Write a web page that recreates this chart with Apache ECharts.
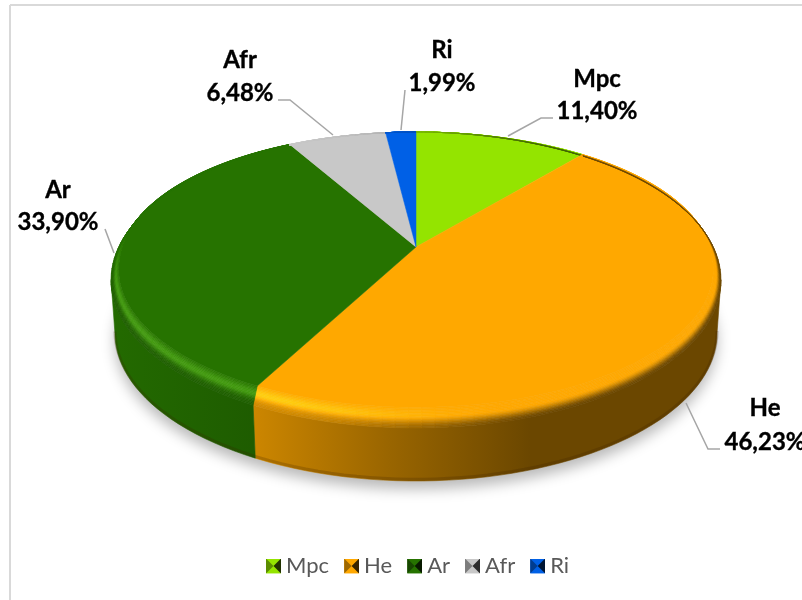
<!DOCTYPE html>
<html>
<head>
<meta charset="utf-8">
<script src="https://cdn.jsdelivr.net/npm/echarts@6/dist/echarts.min.js"></script>
<style>html,body{margin:0;padding:0;background:#fff}#c{width:802px;height:600px}</style>
</head>
<body>
<div id="c"></div>
<script>
// ---- data ----
const categories = ['Mpc', 'He', 'Ar', 'Afr', 'Ri'];
const values = [11.40, 46.23, 33.90, 6.48, 1.99];

// ---- style / layout ----
const baseColors = [[148,228,0],[255,168,0],[38,115,0],[200,200,200],[0,96,230]];
const labelSpots = [
  {x:597, y1:79,  y2:111, line:[[553,118],[541,118],[508,136]]},
  {x:765, y1:408, y2:442, line:[[686,403],[708,449],[720,449]]},
  {x:58,  y1:190, y2:222, line:[[105,229],[114,253]]},
  {x:240, y1:60,  y2:93,  line:[[278,100],[290,100],[333,135]]},
  {x:442, y1:50,  y2:83,  line:[[405,90],[401,130]]}
];
const K = 0.223, Q = Math.sqrt(1 - K * K);   // perspective of the disc
const DEPTH = 53 / 148, BOTTOM_SCALE = 0.987;
const BEVEL_X = 0.025, BEVEL_Y = 0.07, RINGS = 14;
const STEP = 2;

function proj(deg) {
  const c0 = Math.cos(deg * Math.PI / 180);
  const warped = deg - 1.9 * Math.pow(Math.max(0, -c0), 2);
  const a = warped * Math.PI / 180, u = Math.sin(a), v = Math.cos(a), w = 1 + K * v;
  return [Q * u / w, (K + v) / w];
}
function smooth(a, b, x) {
  const t = Math.min(1, Math.max(0, (x - a) / (b - a)));
  return t * t * (3 - 2 * t);
}
function rgb(c) { return 'rgb(' + c.map(v => Math.round(Math.min(255, Math.max(0, v)))).join(',') + ')'; }
function mix(a, b, t) { return a.map((v, i) => v + (b[i] - v) * t); }
function arcAngles(a0, a1) {
  const out = [];
  for (let a = a0; a < a1; a += STEP) out.push(a);
  out.push(a1);
  return out;
}
function bevelPt(deg, t) {
  const p = proj(deg);
  const xFade = Math.min(1, Math.max(0, (1 - p[1]) * 1.1));
  return [p[0] * (1 - BEVEL_X * xFade * (1 - t)), 1 - (1 - p[1]) * (1 - BEVEL_Y * (1 - t))];
}
function bevelColor(base, deg, t) {
  const p = proj(deg), X = p[0], Y = p[1];
  const front = smooth(0.35, -0.1, Y);
  const rightD = smooth(-0.5, 0.5, X);
  const hA = (1 - smooth(-0.6, 0.3, X)) * front * Math.exp(-Math.pow((t - 0.42) / 0.3, 2));
  const dA = (rightD + front * (1 - rightD)) * smooth(0.42, 1, t);
  const hi = [base[0] + 36, base[1] + 50, base[2] + 20];
  const dark = base.map(v => v * (0.82 + (0.42 - 0.82) * rightD));
  return rgb(mix(mix(base, hi, hA * 0.8), dark, dA));
}
function sideGradient(base) {
  const f = (x) => {
    const pts = [[111,0.92],[254,0.8],[390,0.6],[530,0.42],[721,0.42]];
    for (let i = 1; i < pts.length; i++) if (x <= pts[i][0]) {
      const t = (x - pts[i-1][0]) / (pts[i][0] - pts[i-1][0]);
      return pts[i-1][1] + (pts[i][1] - pts[i-1][1]) * t;
    }
    return 0.42;
  };
  const stops = [111,254,390,530,721].map(x => ({offset:(x - 111) / 610, color: rgb(base.map(v => v * f(x)))}));
  return {type:'linear', x:111, y:0, x2:721, y2:0, global:true, colorStops:stops};
}
function swatch(c) {
  const col = f => rgb(c.map(v => v * f));
  const svg = '<svg xmlns="http://www.w3.org/2000/svg" width="15" height="15">' +
    '<rect width="15" height="15" fill="' + col(1) + '"/>' +
    '<polygon points="0,0 15,0 7.5,7.5" fill="' + col(1) + '"/>' +
    '<polygon points="0,15 15,15 7.5,7.5" fill="' + col(1) + '"/>' +
    '<polygon points="0,0 0,15 7.5,7.5" fill="' + col(0.62) + '"/>' +
    '<polygon points="15,0 15,15 7.5,7.5" fill="' + col(0.22) + '"/></svg>';
  return 'image://data:image/svg+xml;charset=utf-8,' + encodeURIComponent(svg);
}
function pct(v) { return v.toFixed(2).replace('.', ',') + '%'; }

// cumulated slice limits (percent)
let running = 0;
const slices = values.map(v => { const s = [running, running + v, v]; running += v; return s; });

function renderSlice(i) {
  return function (params, api) {
    const base = baseColors[i];
    const a0 = api.value(0) * 3.6, a1 = api.value(1) * 3.6;
    const C = p => api.coord(p);
    const kids = [];
    // side wall (only the part facing the viewer)
    const tanA = Math.acos(-K) * 180 / Math.PI, tanB = 360 - tanA;
    const s0 = Math.max(a0, tanA), s1 = Math.min(a1, tanB);
    if (s1 > s0) {
      const ang = arcAngles(s0, s1);
      const top = ang.map(a => C(proj(a)));
      const bot = ang.map(a => { const p = proj(a); return C([p[0] * BOTTOM_SCALE, p[1] - DEPTH]); });
      const poly = top.concat(bot.slice().reverse());
      const grad = sideGradient(base);
      kids.push({type:'polygon', shape:{points:poly}, style:{fill:grad, stroke:grad, lineWidth:0.6}});
      const inner = ang.map(a => { const p = proj(a); return C([p[0] * BOTTOM_SCALE, p[1] - DEPTH + 0.012]); });
      kids.push({type:'polyline', shape:{points:inner}, style:{fill:null, stroke:'rgba(60,30,0,0.22)', lineWidth:3}});
    }
    // top face (up to the inner edge of the bevel)
    const ang = arcAngles(a0, a1);
    const arc = ang.map(a => C(bevelPt(a, 0)));
    const apex = C([0, K]);
    kids.push({type:'polygon', shape:{points:[apex].concat(arc)},
      style:{fill:rgb(base), stroke:rgb(base), lineWidth:0.5}});
    // bevelled rim
    for (let r = 0; r < RINGS; r++) {
      const t0 = r / RINGS, t1 = (r + 1) / RINGS;
      for (let j = 0; j + 1 < ang.length; j++) {
        const mid = (ang[j] + ang[j + 1]) / 2;
        const col = bevelColor(base, mid, (t0 + t1) / 2);
        kids.push({type:'polygon', shape:{points:[
          C(bevelPt(ang[j], t0)), C(bevelPt(ang[j + 1], t0)),
          C(bevelPt(ang[j + 1], t1)), C(bevelPt(ang[j], t1))]},
          style:{fill:col, stroke:col, lineWidth:0.6}});
      }
    }
    // leader + label
    const L = labelSpots[i];
    kids.push({type:'polyline', shape:{points:L.line}, style:{fill:null, stroke:'#A6A6A6', lineWidth:1.5}});
    const font = 'bold 24px Lato';
    const textStyle = {font:font, fill:'#000', stroke:'#000', lineWidth:0.35, align:'center', verticalAlign:'middle'};
    kids.push({type:'text', style:Object.assign({text:categories[i], x:L.x, y:L.y1}, textStyle)});
    kids.push({type:'text', style:Object.assign({text:pct(api.value(2)), x:L.x, y:L.y2}, textStyle)});
    return {type:'group', children:kids};
  };
}
function renderShadow(params, api) {
  const pts = arcAngles(0, 360).map(a => { const p = proj(a); return api.coord([p[0] * BOTTOM_SCALE, p[1] - DEPTH]); });
  return {type:'polygon', shape:{points:pts},
    style:{fill:'#dcdcdc', shadowBlur:14, shadowColor:'rgba(0,0,0,0.28)', shadowOffsetX:0, shadowOffsetY:8}};
}

const chart = echarts.init(document.getElementById('c'), null, {renderer:'canvas'});
const series = [{
  name:'shadow', type:'custom', coordinateSystem:'cartesian2d', clip:false, silent:true, z:1,
  data:[[0,100]], renderItem:renderShadow, animation:false
}].concat(categories.map((name, i) => ({
  name:name, type:'custom', coordinateSystem:'cartesian2d', clip:false, silent:true, z:2,
  itemStyle:{color:rgb(baseColors[i])},
  data:[slices[i]], renderItem:renderSlice(i), animation:false
})));

chart.setOption({
  animation:false,
  backgroundColor:'#fff',
  grid:{left:111, right:81, top:132, bottom:172},
  xAxis:{type:'value', min:-1, max:1, show:false},
  yAxis:{type:'value', min:-1, max:1, show:false},
  legend:{
    left:266, top:555, padding:0, itemWidth:15, itemHeight:15, itemGap:15, selectedMode:false,
    textStyle:{fontFamily:'Lato', fontSize:22, color:'#595959', padding:[0,0,0,0]},
    data:categories.map((n, i) => ({name:n, icon:swatch(baseColors[i])}))
  },
  graphic:[
    {type:'line', shape:{x1:10, y1:5, x2:802, y2:5}, style:{stroke:'#D9D9D9', lineWidth:2}},
    {type:'line', shape:{x1:10, y1:5, x2:10, y2:600}, style:{stroke:'#D9D9D9', lineWidth:2}}
  ],
  series:series
});
</script>
</body>
</html>
